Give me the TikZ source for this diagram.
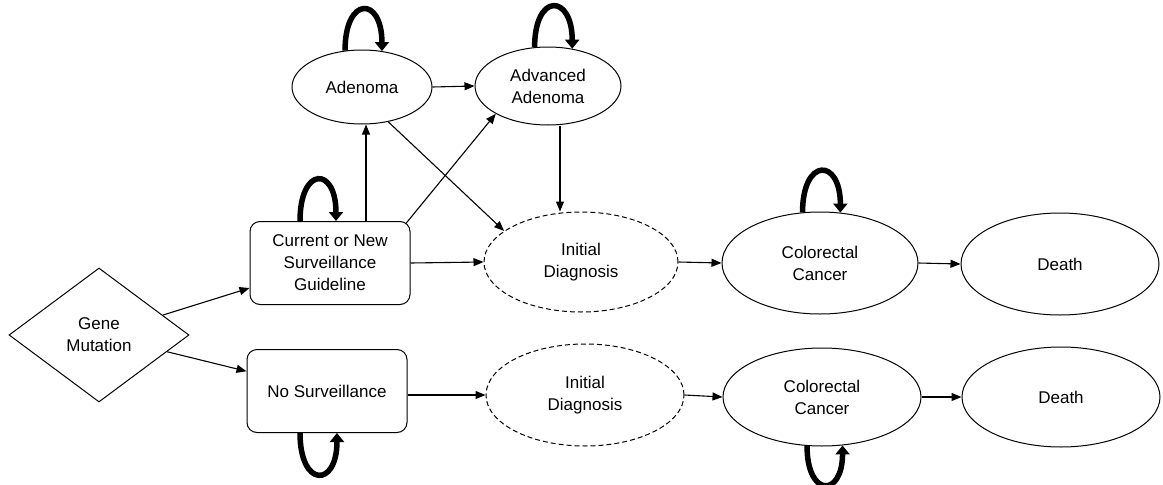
\documentclass[tikz,border=0pt]{standalone}
\usepackage{fontspec}
\setmainfont{Liberation Sans}
\usetikzlibrary{shapes.geometric,arrows.meta}
\begin{document}
\begin{tikzpicture}[x=1pt,y=-1pt,
  every node/.style={font=\fontsize{17}{22}\selectfont, align=center, inner sep=0pt},
  ell/.style={draw, ellipse, line width=1pt},
  dell/.style={ell, dash pattern=on 5pt off 3pt},
  boxnode/.style={draw, rounded corners=10pt, line width=1pt, minimum width=160pt, minimum height=83pt},
  arr/.style={line width=1.1pt, -{Triangle[length=10pt,width=8pt]}},
  selfloop/.style={line width=5.5pt, -{Triangle[length=9pt,width=14pt]}}
]
\useasboundingbox (0,0) rectangle (1163,485);

\node[draw, diamond, minimum width=180pt, minimum height=134pt, line width=1pt] (G) at (99,335) {Gene\\Mutation};
\node[boxnode] (C) at (330,263) {Current or New\\Surveillance\\Guideline};
\node[boxnode] (N) at (327,391) {No Surveillance};
\node[ell, minimum width=140pt, minimum height=74pt] (A) at (362,87) {Adenoma};
\node[ell, minimum width=146pt, minimum height=78pt] (V) at (548,86) {Advanced\\Adenoma};
\node[dell, minimum width=194pt, minimum height=100pt] (I) at (581,262) {Initial\\Diagnosis};
\node[ell, minimum width=196pt, minimum height=102pt] (K) at (820,263) {Colorectal\\Cancer};
\node[ell, minimum width=198pt, minimum height=102pt] (D) at (1060,264) {Death};
\node[dell, minimum width=198pt, minimum height=102pt] (I2) at (585,395) {Initial\\Diagnosis};
\node[ell, minimum width=198pt, minimum height=98pt] (K2) at (822,397) {Colorectal\\Cancer};
\node[ell, minimum width=198pt, minimum height=100pt] (D2) at (1061,397) {Death};

\draw[arr] (G) -- (C);
\draw[arr] (G) -- (N);
\draw[arr] ([xshift=36pt]C.north) -- ([xshift=4pt]A.south);
\draw[arr] ([shift={(-5,3)}]C.north east) -- (V.208);
\draw[arr] (A.-53) -- (I.158);
\draw[arr] (A.east) -- (V.west);
\draw[arr] ([xshift=12pt]V.south) -- ([xshift=-21pt]I.north);
\draw[arr] (C.east) -- (I.west);
\draw[arr] (I.east) -- (K.west);
\draw[arr] (K.east) -- (D.west);
\draw[arr] (N.east |- I2.west) -- (I2.west);
\draw[arr] (I2.east) -- (K2.west);
\draw[arr] (K2.east) -- (D2.west);

\draw[selfloop] (A.115) .. controls +(0,-55) and +(0,-55) .. (A.61);
\draw[selfloop] (V.109) .. controls +(0,-55) and +(0,-55) .. (V.57);
\draw[selfloop] ([xshift=-30pt]C.north) .. controls +(0,-55) and +(0,-55) .. ([xshift=6pt]C.north);
\draw[selfloop] (K.109) .. controls +(0,-55) and +(0,-55) .. (K.68);
\draw[selfloop] ([xshift=-27pt]N.south) .. controls +(0,55) and +(0,55) .. ([xshift=10pt]N.south);
\draw[selfloop] (K2.253) .. controls +(0,52) and +(0,52) .. (K2.-67);
\end{tikzpicture}
\end{document}
